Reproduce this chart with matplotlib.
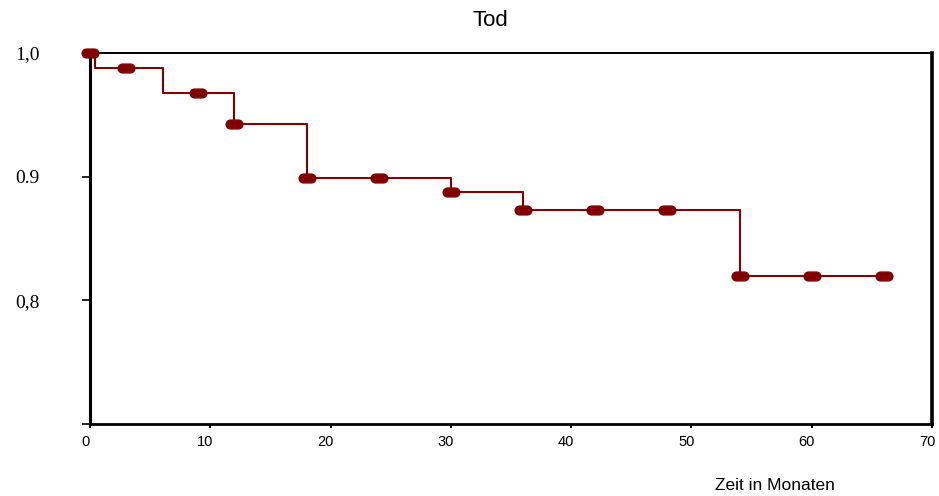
import numpy as np
import matplotlib
matplotlib.use("Agg")
import matplotlib.pyplot as plt
from matplotlib.path import Path
from matplotlib.transforms import ScaledTranslation

# Data
step_t = [0, 0.4, 6.1, 12.0, 18.0, 30.0, 36.0, 54.0, 66.0]
step_s = [1.0, 0.988, 0.968, 0.9425, 0.899, 0.888, 0.873, 0.8195, 0.8195]
cens_t = [0, 3, 9, 12, 18, 24, 30, 36, 42, 48, 54, 60, 66]
cens_s = [1.0, 0.988, 0.968, 0.9425, 0.899, 0.899, 0.888, 0.873, 0.873, 0.873, 0.8195, 0.8195, 0.8195]
xticks = [0, 10, 20, 30, 40, 50, 60, 70]
yticks = [0.7, 0.8, 0.9, 1.0]
ylabels = ["", "0,8", "0.9", "1,0"]

color = "#800000"

# stadium-shaped marker
ang1 = np.linspace(-np.pi / 2, np.pi / 2, 12)
ang2 = np.linspace(np.pi / 2, 3 * np.pi / 2, 12)
verts = np.concatenate([
    np.column_stack([0.45 + 0.5 * np.cos(ang1), 0.5 * np.sin(ang1)]),
    np.column_stack([-0.45 + 0.5 * np.cos(ang2), 0.5 * np.sin(ang2)]),
])
verts = np.vstack([verts, verts[:1]])
stadium = Path(verts, closed=True)

fig = plt.figure(figsize=(9.39, 4.96), dpi=100)
ax = fig.add_axes([90 / 939, 1 - 424 / 496, (932 - 90) / 939, (424 - 53) / 496])

ax.step(step_t, step_s, where="post", color=color, lw=1.5, zorder=2)
ax.plot(cens_t, cens_s, linestyle="none", marker=stadium, markersize=12,
        color=color, markeredgecolor=color, zorder=3, clip_on=False)

ax.set_xlim(0, 70)
ax.set_ylim(0.7, 1.0)
ax.set_xticks(xticks)
ax.set_xticklabels([str(v) for v in xticks], family="Liberation Sans", fontsize=10.5)
ax.set_yticks(yticks)
ax.set_yticklabels(ylabels, family="Liberation Serif", fontsize=14)
ax.tick_params(axis="y", direction="out", length=6, width=1.2, pad=30)
ax.tick_params(axis="x", direction="out", length=3, width=1.5, pad=5)
offset = ScaledTranslation(-5 / 100, 0, fig.dpi_scale_trans)
for lbl in ax.get_xticklabels():
    lbl.set_transform(lbl.get_transform() + offset)

ax.spines["left"].set_linewidth(2.2)
ax.spines["bottom"].set_linewidth(2.0)
ax.spines["right"].set_linewidth(2.6)
ax.spines["top"].set_linewidth(1.4)
for s in ax.spines.values():
    s.set_color("black")

fig.text(490 / 939, 1 - 21 / 496, "Tod", ha="center", va="center",
         family="Liberation Sans", fontsize=16)
fig.text(774.5 / 939, 1 - 485 / 496, "Zeit in Monaten", ha="center", va="center",
         family="Liberation Sans", fontsize=12.5)

fig.savefig("out.png", dpi=100)
